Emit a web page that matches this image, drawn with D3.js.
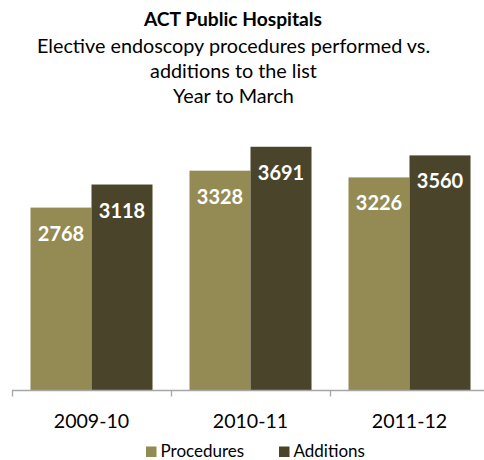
<!DOCTYPE html>
<html>
<head>
<meta charset="utf-8">
<script src="https://cdn.jsdelivr.net/npm/d3@7"></script>
<style>
  html, body { margin: 0; padding: 0; background: #ffffff; }
  svg { display: block; font-family: Lato, "Open Sans", sans-serif; }
</style>
</head>
<body>
<svg id="chart" width="484" height="460"></svg>
<script>
// Financial years shown on the horizontal axis
const categories = ["2009-10", "2010-11", "2011-12"];
// Series names and their values per year
const seriesNames = ["Procedures", "Additions"];
const procedures = [2768, 3328, 3226];
const additions = [3118, 3691, 3560];
const titleLines = ["Elective endoscopy procedures performed vs.", "additions to the list", "Year to March"];

const colors = { Procedures: "#948A54", Additions: "#4A452A" };
const seriesValues = { Procedures: procedures, Additions: additions };

const svg = d3.select("#chart");
const W = 484;

// Scales
const x0 = d3.scaleBand().domain(categories).range([12, 489]).padding(0);
const x1 = d3.scaleBand().domain(seriesNames).range([0, x0.bandwidth()])
  .paddingInner(0).paddingOuter(0.303);
const y = d3.scaleLinear().domain([0, 4000]).range([390, 126.4]);

// Title block
svg.append("text")
  .attr("x", 233).attr("y", 25.5)
  .attr("text-anchor", "middle")
  .attr("font-weight", "bold").attr("font-size", 19.2)
  .attr("fill", "#000")
  .text("ACT Public Hospitals");

svg.selectAll("text.sub")
  .data(titleLines)
  .join("text")
  .attr("class", "sub")
  .attr("x", 233.5)
  .attr("y", (d, i) => 53 + i * 25)
  .attr("text-anchor", "middle")
  .attr("font-size", 19.8)
  .attr("fill", "#000")
  .text(d => d);

// Bars
const rows = categories.map((c, i) => ({
  cat: c,
  items: seriesNames.map(s => ({ key: s, value: seriesValues[s][i] }))
}));

const groups = svg.selectAll("g.grp")
  .data(rows)
  .join("g")
  .attr("class", "grp")
  .attr("transform", d => `translate(${x0(d.cat)},0)`);

groups.selectAll("rect")
  .data(d => d.items)
  .join("rect")
  .attr("x", d => x1(d.key))
  .attr("width", x1.bandwidth())
  .attr("y", d => y(d.value))
  .attr("height", d => y(0) - y(d.value))
  .attr("fill", d => colors[d.key]);

// Value labels inside bar tops
groups.selectAll("text.val")
  .data(d => d.items)
  .join("text")
  .attr("class", "val")
  .attr("x", d => x1(d.key) + x1.bandwidth() / 2)
  .attr("y", d => y(d.value) + 33)
  .attr("text-anchor", "middle")
  .attr("font-weight", "bold")
  .attr("font-size", 20)
  .attr("fill", "#ffffff")
  .text(d => d.value);

// Category axis: labels centred under each group
const axis = svg.append("g")
  .attr("transform", `translate(0,${y(0)})`)
  .call(d3.axisBottom(x0).tickSize(0).tickPadding(24));
axis.select(".domain").remove();
axis.selectAll("text")
  .attr("font-family", "Lato, 'Open Sans', sans-serif")
  .attr("font-size", 19.6)
  .attr("fill", "#000");

// Baseline and boundary ticks between groups
const base = Math.round(y(0)) + 0.5;
svg.append("line")
  .attr("x1", x0(categories[0])).attr("x2", W)
  .attr("y1", base).attr("y2", base)
  .attr("stroke", "#a6a6a6").attr("stroke-width", 1.3);
svg.selectAll("line.tick")
  .data(categories)
  .join("line")
  .attr("class", "tick")
  .attr("x1", d => Math.round(x0(d)) + 0.5)
  .attr("x2", d => Math.round(x0(d)) + 0.5)
  .attr("y1", base).attr("y2", base + 6)
  .attr("stroke", "#a6a6a6").attr("stroke-width", 1.3);

// Legend
const legendItems = [
  { key: "Procedures", x: 146 },
  { key: "Additions", x: 279 }
];
const lg = svg.selectAll("g.legend")
  .data(legendItems)
  .join("g")
  .attr("class", "legend")
  .attr("transform", d => `translate(${d.x},446.5)`);
lg.append("rect")
  .attr("width", 10.5).attr("height", 10.5)
  .attr("fill", d => colors[d.key]);
lg.append("text")
  .attr("x", 14.5).attr("y", 10)
  .attr("font-size", 17)
  .attr("fill", "#000")
  .text(d => d.key);
</script>
</body>
</html>
